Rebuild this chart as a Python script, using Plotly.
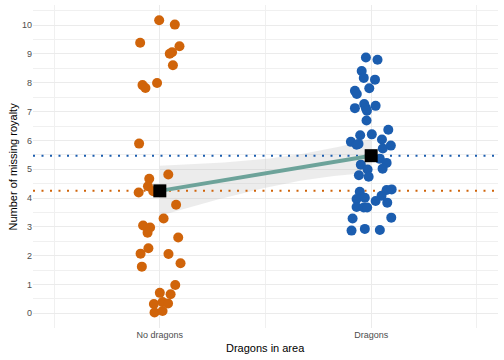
import numpy as np
import plotly.graph_objects as go

categories = ["No dragons", "Dragons"]

no_dragons_values = [10.17, 10.02, 9.39, 9.27, 9.06, 9.01, 8.61, 7.99, 7.92, 7.82, 5.89,
                     4.82, 4.67, 4.41, 4.19, 4.24, 3.77, 3.29, 3.05, 2.98, 2.80, 2.63,
                     2.26, 2.07, 2.06, 1.74, 1.62, 0.98, 0.71, 0.66, 0.32, 0.39, 0.34,
                     0.03, 0.08]
no_dragons_jitter = [-0.003, 0.071, -0.093, 0.093, 0.058, 0.047, 0.062, -0.013, -0.082, -0.068,
                     -0.098, 0.040, -0.050, -0.056, -0.100, -0.031, 0.077, 0.018, -0.079,
                     -0.046, -0.058, 0.087, -0.054, -0.091, 0.041, 0.098, -0.085, 0.073,
                     0.000, 0.051, -0.028, 0.013, 0.039, -0.025, 0.013]

dragons_values = [8.88, 8.80, 8.41, 8.17, 8.11, 7.81, 7.72, 7.61, 7.12, 7.26, 7.12, 7.03,
                  7.20, 6.69, 6.37, 6.18, 6.21, 6.03, 5.95, 5.85, 5.88, 5.82, 5.72, 5.36,
                  5.22, 5.16, 5.02, 4.99, 4.79, 4.74, 4.22, 4.28, 4.30, 4.08, 3.97, 4.01,
                  3.90, 3.84, 3.69, 3.67, 3.67, 3.29, 3.32, 2.87, 2.93, 2.89]
dragons_jitter = [-0.025, 0.030, -0.045, -0.035, 0.018, -0.009, -0.077, -0.068, -0.077, -0.033,
                  -0.025, -0.020, 0.021, -0.022, 0.081, -0.052, 0.003, 0.051, -0.096, -0.069,
                  -0.060, 0.093, 0.055, 0.041, 0.073, -0.049, 0.054, -0.017, -0.058, -0.012,
                  -0.054, 0.073, 0.097, 0.049, -0.069, -0.030, 0.021, 0.076, -0.069, -0.035,
                  -0.019, -0.088, 0.095, -0.093, -0.030, 0.041]

group_means = [4.25, 5.47]
# half-width of the regression confidence band, read at x = 1, 1.5, 2
band_x = [1.0, 1.5, 2.0]
band_half = [0.87, 0.50, 0.58]
y_ticks = list(range(0, 11))

ORANGE = "#D0640A"
BLUE = "#1B5DAF"
TEAL = "#6DA39A"

# smooth hyperbolic band through the read half-widths: h^2 = a + b (x - x0)^2
h2 = np.array(band_half) ** 2
coef = np.polyfit(np.array(band_x), h2, 2)
xs = np.linspace(1, 2, 80)
half = np.sqrt(np.polyval(coef, xs))
fit = group_means[0] + (group_means[1] - group_means[0]) * (xs - 1)
upper = fit + half
lower = fit - half

fig = go.Figure()

fig.add_trace(go.Scatter(
    x=np.concatenate([xs, xs[::-1]]), y=np.concatenate([upper, lower[::-1]]),
    fill="toself", fillcolor="rgba(185,185,185,0.28)", line=dict(width=0),
    mode="lines", hoverinfo="skip", showlegend=False))

for yv, col in [(group_means[1], BLUE), (group_means[0], ORANGE)]:
    fig.add_trace(go.Scatter(x=[0.4, 2.6], y=[yv, yv], mode="lines",
                             line=dict(color=col, width=2, dash="2px,6.5px"),
                             showlegend=False, hoverinfo="skip"))

fig.add_trace(go.Scatter(
    x=[1 + j for j in no_dragons_jitter], y=no_dragons_values, mode="markers",
    marker=dict(color=ORANGE, size=10, line=dict(width=0)), showlegend=False))
fig.add_trace(go.Scatter(
    x=[2 + j for j in dragons_jitter], y=dragons_values, mode="markers",
    marker=dict(color=BLUE, size=10, line=dict(width=0)), showlegend=False))

fig.add_trace(go.Scatter(x=xs, y=fit, mode="lines", line=dict(color=TEAL, width=4),
                         showlegend=False))
fig.add_trace(go.Scatter(x=[1, 2], y=group_means, mode="markers",
                         marker=dict(color="black", size=13, symbol="square"),
                         showlegend=False))

fig.update_layout(
    width=504, height=360,
    margin=dict(l=33, r=6, t=5, b=32),
    plot_bgcolor="white", paper_bgcolor="white",
    font=dict(family="Liberation Sans, Arial, sans-serif", color="black"),
    xaxis=dict(range=[0.4, 2.6], tickvals=[1, 2], ticktext=categories, automargin=False,
               showgrid=True, gridcolor="#EBEBEB", gridwidth=1, zeroline=False,
               ticks="", tickfont=dict(size=9, color="#4D4D4D"),
               minor=dict(tickvals=[0.5, 1.5, 2.5], showgrid=True, gridcolor="#F0F0F0", gridwidth=1)),
    yaxis=dict(range=[-0.51, 10.7], tickvals=y_ticks, automargin=False,
               showgrid=True, gridcolor="#EBEBEB", gridwidth=1, zeroline=False,
               ticks="", tickfont=dict(size=9, color="#4D4D4D"),
               minor=dict(dtick=0.5, showgrid=True, gridcolor="#F0F0F0", gridwidth=1)),
    annotations=[
        dict(text="Dragons in area", xref="paper", yref="paper", x=0.5, y=0,
             yanchor="middle", xanchor="center", yshift=-20, showarrow=False,
             font=dict(size=11, color="black")),
        dict(text="Number of missing royalty", xref="paper", yref="paper", x=0, y=0.5,
             xanchor="center", yanchor="middle", xshift=-21, textangle=-90, showarrow=False,
             font=dict(size=11, color="black")),
    ],
)

fig.write_html("out.html", config={"displayModeBar": False},
               post_script="document.body.style.margin='0';document.body.style.padding='0';")
